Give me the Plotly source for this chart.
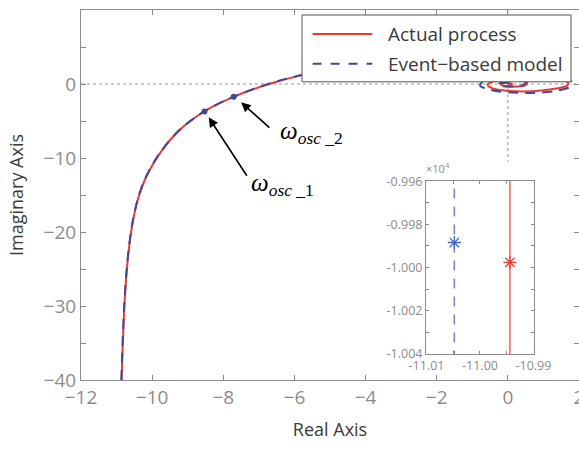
import plotly.graph_objects as go

# Nyquist curve of the actual process (real / imaginary parts)
actual_re = [-10.86, -10.825, -10.78, -10.71, -10.62, -10.52, -10.365, -10.173, -9.937, -9.727,
             -9.483, -9.18, -8.782, -8.53, -8.12, -7.71, -7.20, -6.60,
             -5.87, -5.00, -4.00, -3.00, -2.00, -1.00, 0.00, 0.90, 1.45, 1.70,
             1.65, 1.35, 0.95, 0.45, -0.10, -0.45, -0.57, -0.45, -0.10, 0.30,
             0.55, 0.50, 0.25, -0.05, -0.20, -0.10, 0.05, 0.12, 0.05, 0.00]
actual_im = [-40.0, -35.0, -30.0, -25.0, -21.0, -18.0, -15.0, -12.6, -10.5, -9.0,
             -7.5, -6.0, -4.5, -3.70, -2.63, -1.73, -0.78, 0.17,
             1.10, 1.95, 2.60, 2.95, 3.00, 2.75, 2.20, 1.50, 0.80, 0.10,
             -0.25, -0.62, -0.88, -1.00, -0.87, -0.55, -0.10, 0.30, 0.55, 0.50,
             0.20, -0.15, -0.35, -0.30, -0.05, 0.15, 0.15, 0.00, -0.08, 0.00]

# Nyquist curve of the event-based model
model_re = [-10.865, -10.83, -10.785, -10.715, -10.625, -10.525, -10.37, -10.178, -9.942, -9.732,
            -9.487, -9.183, -8.784, -8.53, -8.12, -7.71, -7.20, -6.60,
            -5.87, -5.00, -4.00, -3.00, -2.00, -1.00, 0.00, 1.00, 1.55, 1.80,
            1.75, 1.40, 0.75, 0.00, -0.50, -0.78, -0.68, -0.25, 0.25, 0.50,
            0.40, 0.10, -0.22, -0.28, -0.12, 0.05, 0.08, 0.00]
model_im = [-40.0, -35.0, -30.0, -25.0, -21.0, -18.0, -15.0, -12.6, -10.5, -9.0,
            -7.5, -6.0, -4.5, -3.70, -2.63, -1.73, -0.76, 0.20,
            1.14, 2.05, 2.75, 3.15, 3.25, 3.05, 2.50, 1.70, 0.95, 0.20,
            -0.35, -0.88, -1.20, -1.12, -0.78, -0.20, 0.40, 0.72, 0.65, 0.25,
            -0.18, -0.32, -0.20, 0.05, 0.18, 0.12, 0.00, -0.03]

# Oscillation frequencies marked on the model curve
osc_re = [-8.53, -7.71]
osc_im = [-3.70, -1.73]
osc_names = ["1", "2"]

# Zoomed low-frequency part (imaginary part around -1e4)
inset_actual_re = [-10.9944, -10.9944]
inset_actual_im = [-9955.0, -10045.0]
inset_model_re = [-11.0048, -11.0048]
inset_model_im = [-9955.0, -10045.0]
start_actual = [-10.9944, -9997.6]
start_model = [-11.0048, -9988.4]

# Axis ticks
x_ticks = [-12, -10, -8, -6, -4, -2, 0, 2]
y_ticks = [-40, -35, -30, -25, -20, -15, -10, -5, 0, 5, 10]
inset_x_ticks = [-11.01, -11.00, -10.99]
inset_y_ticks = [-9960, -9980, -10000, -10020, -10040]

RED = "#ee3a2e"
BLUE = "#3f479c"
GRAY = "#8c8c8c"
TXT = "#3a3a3a"
FONT = "Open Sans"


def fmt(v):
    return ("\u2212" if v < 0 else "") + str(abs(v))


fig = go.Figure()

fig.add_trace(go.Scatter(x=actual_re, y=actual_im, mode="lines",
                         line=dict(color=RED, width=2, shape="spline", smoothing=1.0),
                         name="Actual process", showlegend=False))
fig.add_trace(go.Scatter(x=model_re, y=model_im, mode="lines",
                         line=dict(color=BLUE, width=2, dash="10px,7px", shape="spline", smoothing=1.0),
                         name="Event\u2212based model", showlegend=False))
fig.add_trace(go.Scatter(x=osc_re, y=osc_im, mode="markers",
                         marker=dict(color=BLUE, size=6), showlegend=False))

# inset traces
fig.add_trace(go.Scatter(x=inset_actual_re, y=inset_actual_im, mode="lines",
                         line=dict(color=RED, width=1.2), xaxis="x2", yaxis="y2", showlegend=False))
fig.add_trace(go.Scatter(x=inset_model_re, y=inset_model_im, mode="lines",
                         line=dict(color="#7a7ad0", width=1.5, dash="10px,8px"),
                         xaxis="x2", yaxis="y2", showlegend=False))
fig.add_trace(go.Scatter(x=[start_model[0]], y=[start_model[1]], mode="markers",
                         marker=dict(symbol="asterisk-open", size=11, color="#3d68c0",
                                     line=dict(color="#3d68c0", width=1.3)),
                         xaxis="x2", yaxis="y2", showlegend=False))
fig.add_trace(go.Scatter(x=[start_actual[0]], y=[start_actual[1]], mode="markers",
                         marker=dict(symbol="asterisk-open", size=11, color=RED,
                                     line=dict(color=RED, width=1.3)),
                         xaxis="x2", yaxis="y2", showlegend=False))

# zero reference lines
fig.add_shape(type="line", xref="x", yref="y", x0=-12, x1=2, y0=0, y1=0,
              line=dict(color="#9a9a9a", width=1, dash="dot"), layer="below")
fig.add_shape(type="line", xref="x", yref="y", x0=0, x1=0, y0=10, y1=-10.5,
              line=dict(color="#9a9a9a", width=1, dash="dot"), layer="below")

# legend box
lx0, lx1, ly0, ly1 = 0.4438, 0.984, 0.806, 0.9865
fig.add_shape(type="rect", xref="paper", yref="paper", x0=lx0, x1=lx1, y0=ly0, y1=ly1,
              fillcolor="white", line=dict(color="#555555", width=1), layer="above")
entries = [("Actual process", RED, "solid", 0.935), ("Event\u2212based model", BLUE, "dash", 0.855)]
for label, col, dash, yy in entries:
    fig.add_shape(type="line", xref="paper", yref="paper", x0=0.465, x1=0.585, y0=yy, y1=yy,
                  line=dict(color=col, width=2, dash=dash), layer="above")
    fig.add_annotation(xref="paper", yref="paper", x=0.612, y=yy, text=label, showarrow=False,
                       xanchor="left", yanchor="middle", font=dict(family=FONT, size=19, color=TXT))

# arrows to the oscillation frequencies
arrows = [(-8.41, -4.51, -7.31, -12.6), (-7.50, -2.48, -6.66, -6.07)]
for hx, hy, tx, ty in arrows:
    fig.add_annotation(x=hx, y=hy, ax=tx, ay=ty, xref="x", yref="y", axref="x", ayref="y",
                       text="", showarrow=True, arrowhead=2, arrowsize=1.2, arrowwidth=1.6,
                       arrowcolor="black")
label_pos = [(-7.27, -13.6), (-6.45, -6.5)]
for (lx, ly), n in zip(label_pos, osc_names):
    fig.add_annotation(x=lx, y=ly, xref="x", yref="y", showarrow=False, xanchor="left",
                       yanchor="middle",
                       text="<i>\u03c9</i><sub><i>osc</i> _" + n + "</sub>",
                       font=dict(family="Liberation Serif", size=25, color="black"))

# inset exponent label
fig.add_annotation(xref="paper", yref="paper", x=0.689, y=0.546, text="\u00d710<sup>4</sup>",
                   showarrow=False, xanchor="left", yanchor="bottom",
                   font=dict(family=FONT, size=11, color=GRAY))

axis_common = dict(showline=True, linecolor=GRAY, linewidth=1, mirror="ticks", ticks="inside",
                   tickcolor=GRAY, ticklen=5, showgrid=False, zeroline=False, automargin=False)

fig.update_layout(
    width=579, height=449,
    margin=dict(l=81, r=0, t=10, b=69, autoexpand=False),
    paper_bgcolor="white", plot_bgcolor="white",
    font=dict(family=FONT, color=TXT),
    xaxis=dict(range=[-12, 2], tickvals=x_ticks, ticktext=[fmt(v) for v in x_ticks],
               tickfont=dict(size=19, color=GRAY), ticklabeloverflow="allow",
               title=dict(text="Real Axis", font=dict(size=18, color=TXT), standoff=14),
               **axis_common),
    yaxis=dict(range=[-40, 10], tickvals=y_ticks,
               ticktext=[fmt(v) if v % 10 == 0 else "" for v in y_ticks],
               tickfont=dict(size=19, color=GRAY),
               title=dict(text="Imaginary Axis", font=dict(size=18, color=TXT), standoff=15),
               **axis_common),
    xaxis2=dict(domain=[0.6928, 0.9096], anchor="y2", range=[-11.0101, -10.9899],
                tickvals=inset_x_ticks, ticktext=["-11.01", "-11.00", "-10.99"],
                tickfont=dict(size=12.5, color=GRAY),
                minor=dict(dtick=0.005, ticks="inside", ticklen=3, tickcolor=GRAY),
                **{**axis_common, "ticklen": 3}),
    yaxis2=dict(domain=[0.0695, 0.5386], anchor="x2", range=[-10040.3, -9959.7],
                tickvals=inset_y_ticks, ticktext=["-0.996", "-0.998", "-1.000", "-1.002", "-1.004"],
                tickfont=dict(size=12.5, color=GRAY),
                minor=dict(dtick=10, ticks="inside", ticklen=3, tickcolor=GRAY),
                **{**axis_common, "ticklen": 3}),
)

fig.write_html("out.html")
